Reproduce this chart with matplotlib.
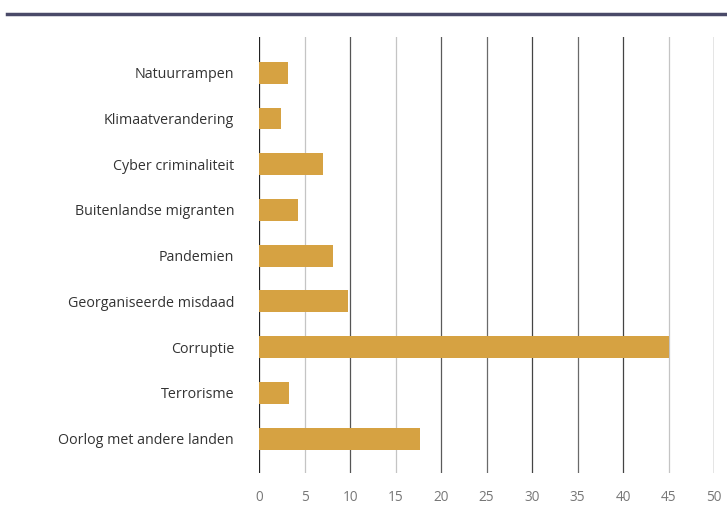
import matplotlib.pyplot as plt
from matplotlib.lines import Line2D

categories = ["Natuurrampen", "Klimaatverandering", "Cyber criminaliteit",
              "Buitenlandse migranten", "Pandemien", "Georganiseerde misdaad",
              "Corruptie", "Terrorisme", "Oorlog met andere landen"]
values = [3.2, 2.4, 7.0, 4.3, 8.1, 9.8, 45.0, 3.3, 17.7]
xticks = [0, 5, 10, 15, 20, 25, 30, 35, 40, 45, 50]

plt.rcParams['font.family'] = ['Open Sans', 'DejaVu Sans']

fig = plt.figure(figsize=(7.27, 5.14), dpi=100)
ax = fig.add_axes([0.3563, 0.0798, 0.626, 0.848])

# bars drawn top to bottom
ypos = list(range(len(categories) - 1, -1, -1))
ax.barh(ypos, values, height=0.48, color="#D6A242", zorder=2)

ax.set_xlim(0, 50)
ax.set_ylim(-0.75, 8.78)

# vertical grid lines, some darker than others as in the original
grid_colors = ["#222222", "#c4c4c4", "#555555", "#c4c4c4", "#5a5a5a", "#6a6a6a",
               "#444444", "#6a6a6a", "#444444", "#c4c4c4", "#333333"]
for t, c in zip(xticks, grid_colors):
    ax.axvline(t, color=c, lw=0.9, zorder=1)

ax.set_xticks(xticks)
ax.set_xticklabels([str(t) for t in xticks], color="#777777", fontsize=9.8)
ax.set_yticks(ypos)
ax.set_yticklabels(categories, color="#333333", fontsize=10.3)
ax.tick_params(axis="x", length=0, pad=12)
ax.tick_params(axis="y", length=0, pad=18)
for s in ax.spines.values():
    s.set_visible(False)

# header rule across the top
fig.add_artist(Line2D([0.01, 1.0], [0.973, 0.973], color="#4a4a68", lw=2.5,
                      transform=fig.transFigure))

fig.savefig("out.png", dpi=100)
